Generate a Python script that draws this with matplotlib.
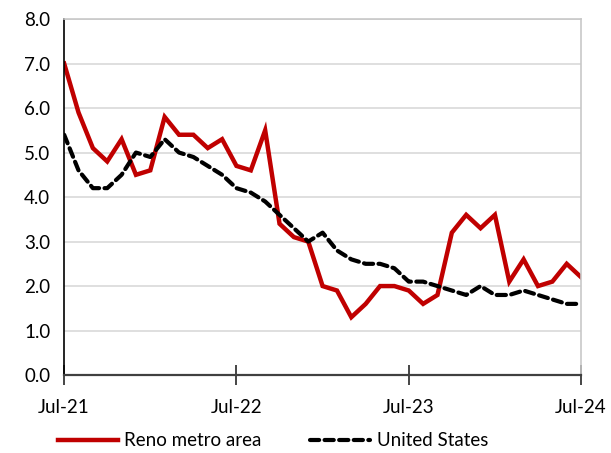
import numpy as np
import matplotlib.pyplot as plt

plt.rcParams['font.family'] = ['Lato', 'DejaVu Sans']

# Monthly values, Jul-21 .. Jul-24
months = np.arange(37)
reno = [7.0, 5.9, 5.1, 4.8, 5.3, 4.5, 4.6, 5.8, 5.4, 5.4, 5.1, 5.3,
        4.7, 4.6, 5.5, 3.4, 3.1, 3.0, 2.0, 1.9, 1.3, 1.6, 2.0, 2.0,
        1.9, 1.6, 1.8, 3.2, 3.6, 3.3, 3.6, 2.1, 2.6, 2.0, 2.1, 2.5,
        2.2]
us = [5.4, 4.6, 4.2, 4.2, 4.5, 5.0, 4.9, 5.3, 5.0, 4.9, 4.7, 4.5,
      4.2, 4.1, 3.9, 3.6, 3.3, 3.0, 3.2, 2.8, 2.6, 2.5, 2.5, 2.4,
      2.1, 2.1, 2.0, 1.9, 1.8, 2.0, 1.8, 1.8, 1.9, 1.8, 1.7, 1.6,
      1.6]
tick_pos = [0, 12, 24, 36]
tick_labels = ['Jul-21', 'Jul-22', 'Jul-23', 'Jul-24']

fig = plt.figure(figsize=(6.11, 4.53), dpi=100)
ax = fig.add_axes([0.105, 0.172, 0.846, 0.786])

ax.plot(months, reno, color='#c00000', lw=3.2, label='Reno metro area',
        solid_joinstyle='miter')
ax.plot(months, us, color='black', lw=3.0, ls=(0, (2.2, 1.3)),
        label='United States', dash_capstyle='round')

ax.set_xlim(0, 36)
ax.set_ylim(0, 8)
ax.set_yticks(np.arange(0, 9))
ax.set_yticklabels([f'{v:.1f}' for v in range(9)])
ax.set_xticks(tick_pos)
ax.set_xticklabels(tick_labels)
ax.grid(axis='y', color='#d9d9d9', lw=1.2)
ax.set_axisbelow(True)

ax.tick_params(axis='y', length=0, pad=10, labelsize=13.5)
ax.tick_params(axis='x', direction='inout', length=14, width=1.2,
               color='#262626', pad=10, labelsize=13.5)

ax.spines['left'].set_color('black')
ax.spines['left'].set_linewidth(1.2)
ax.spines['bottom'].set_color('#404040')
ax.spines['bottom'].set_linewidth(1.6)
for s in ['top', 'right']:
    ax.spines[s].set_color('#c8c8c8')
    ax.spines[s].set_linewidth(1.2)

fig.legend(loc='center', bbox_to_anchor=(0.447, 0.027), ncol=2, frameon=False,
           fontsize=13.5, handlelength=3.2, columnspacing=2.6,
           handletextpad=0.35)

fig.savefig('out.png', dpi=100)
